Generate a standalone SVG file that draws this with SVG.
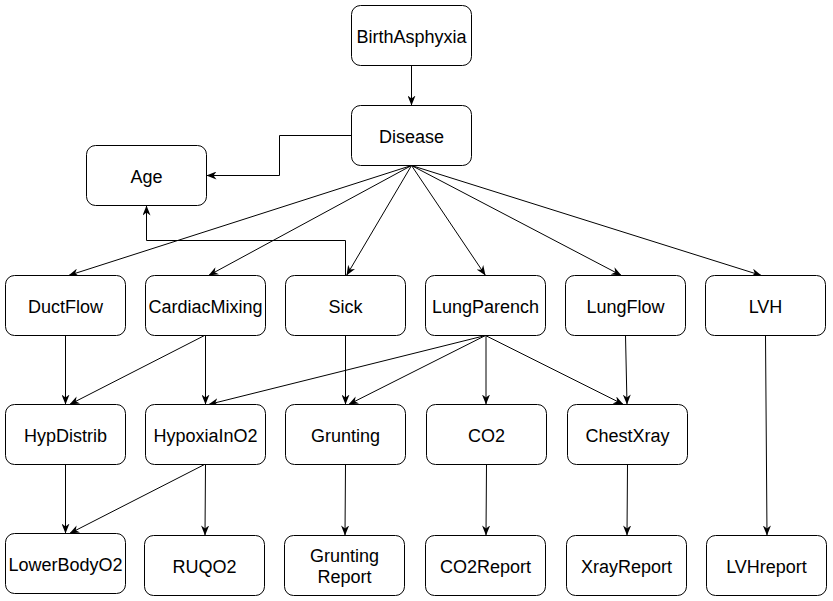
<svg xmlns="http://www.w3.org/2000/svg" width="833" height="601" viewBox="0 0 833 601">
<style>
.n rect{fill:#fff;stroke:#000;stroke-width:1}
.n text{font-family:"Liberation Sans",Arial,sans-serif;font-size:18px;fill:#000;text-anchor:middle}
.e path{fill:none;stroke:#000;stroke-width:1;marker-end:url(#a)}
</style>
<defs>
<marker id="a" viewBox="0 0 10 8" refX="10" refY="4" markerWidth="10" markerHeight="8" orient="auto" markerUnits="userSpaceOnUse"><path d="M0,0 L10,4 L0,8 L3,4 z" fill="#000"/></marker>
</defs>
<rect width="833" height="601" fill="#fff"/>
<g class="e" id="edges">
<path d="M411.5,65.5 L411.5,105.5"/>
<path d="M351.5,135.5 L279.5,135.5 L279.5,175.5 L206.5,175.5"/>
<path d="M345.5,275.5 L345.5,240.5 L146.5,240.5 L146.5,205.5"/>
<path d="M411.5,165.5 L68.5,275.5"/>
<path d="M411.5,165.5 L208.5,275.5"/>
<path d="M411.5,165.5 L346.5,275.5"/>
<path d="M411.5,165.5 L485.5,275.5"/>
<path d="M411.5,165.5 L621.5,275.5"/>
<path d="M411.5,165.5 L761.5,275.5"/>
<path d="M65.5,335.5 L65.5,404.5"/>
<path d="M204.5,335.5 L69.5,404.5"/>
<path d="M205.5,335.5 L205.5,404.5"/>
<path d="M485.5,335.5 L208.5,404.5"/>
<path d="M345.5,335.5 L345.5,404.5"/>
<path d="M485.5,335.5 L348.5,404.5"/>
<path d="M486,335.5 L486,404.5"/>
<path d="M485.5,335.5 L623.5,404.5"/>
<path d="M625.5,335.5 L627,404.5"/>
<path d="M65.5,464.5 L65.5,533.5"/>
<path d="M204.5,464.5 L69.5,533.5"/>
<path d="M205.5,464.5 L205,535.5"/>
<path d="M345.5,464.5 L345,535.5"/>
<path d="M486.5,464.5 L486,535.5"/>
<path d="M627.5,464.5 L627,535.5"/>
<path d="M765.5,335.5 L767,535.5"/>
</g>
<g class="n" id="BirthAsphyxia"><rect x="351.5" y="5.5" width="120" height="60" rx="9"/><text x="411.5" y="42.5">BirthAsphyxia</text></g>
<g class="n" id="Disease"><rect x="351.5" y="105.5" width="120" height="60" rx="9"/><text x="411.5" y="142.5">Disease</text></g>
<g class="n" id="Age"><rect x="86.5" y="145.5" width="120" height="60" rx="9"/><text x="146.5" y="182.5">Age</text></g>
<g class="n" id="DuctFlow"><rect x="5.5" y="275.5" width="120" height="60" rx="9"/><text x="65.5" y="312.5">DuctFlow</text></g>
<g class="n" id="CardiacMixing"><rect x="145.5" y="275.5" width="120" height="60" rx="9"/><text x="205.5" y="312.5">CardiacMixing</text></g>
<g class="n" id="Sick"><rect x="285.5" y="275.5" width="120" height="60" rx="9"/><text x="345.5" y="312.5">Sick</text></g>
<g class="n" id="LungParench"><rect x="425.5" y="275.5" width="120" height="60" rx="9"/><text x="485.5" y="312.5">LungParench</text></g>
<g class="n" id="LungFlow"><rect x="565.5" y="275.5" width="120" height="60" rx="9"/><text x="625.5" y="312.5">LungFlow</text></g>
<g class="n" id="LVH"><rect x="705.5" y="275.5" width="120" height="60" rx="9"/><text x="765.5" y="312.5">LVH</text></g>
<g class="n" id="HypDistrib"><rect x="5.5" y="404.5" width="120" height="60" rx="9"/><text x="65.5" y="441.5">HypDistrib</text></g>
<g class="n" id="HypoxiaInO2"><rect x="145.5" y="404.5" width="120" height="60" rx="9"/><text x="205.5" y="441.5">HypoxiaInO2</text></g>
<g class="n" id="Grunting"><rect x="285.5" y="404.5" width="120" height="60" rx="9"/><text x="345.5" y="441.5">Grunting</text></g>
<g class="n" id="CO2"><rect x="426.5" y="404.5" width="120" height="60" rx="9"/><text x="486.5" y="441.5">CO2</text></g>
<g class="n" id="ChestXray"><rect x="567.5" y="404.5" width="120" height="60" rx="9"/><text x="627.5" y="441.5">ChestXray</text></g>
<g class="n" id="LowerBodyO2"><rect x="5.5" y="533.5" width="120" height="60" rx="9"/><text x="65.5" y="570.5">LowerBodyO2</text></g>
<g class="n" id="RUQO2"><rect x="144.5" y="535.5" width="120" height="60" rx="9"/><text x="204.5" y="572.5">RUQO2</text></g>
<g class="n" id="GruntingReport"><rect x="284.5" y="535.5" width="120" height="60" rx="9"/><text x="344.5" y="562">Grunting</text><text x="344.5" y="583">Report</text></g>
<g class="n" id="CO2Report"><rect x="425.5" y="535.5" width="120" height="60" rx="9"/><text x="485.5" y="572.5">CO2Report</text></g>
<g class="n" id="XrayReport"><rect x="566.5" y="535.5" width="120" height="60" rx="9"/><text x="626.5" y="572.5">XrayReport</text></g>
<g class="n" id="LVHreport"><rect x="706.5" y="535.5" width="120" height="60" rx="9"/><text x="766.5" y="572.5">LVHreport</text></g>
</svg>
